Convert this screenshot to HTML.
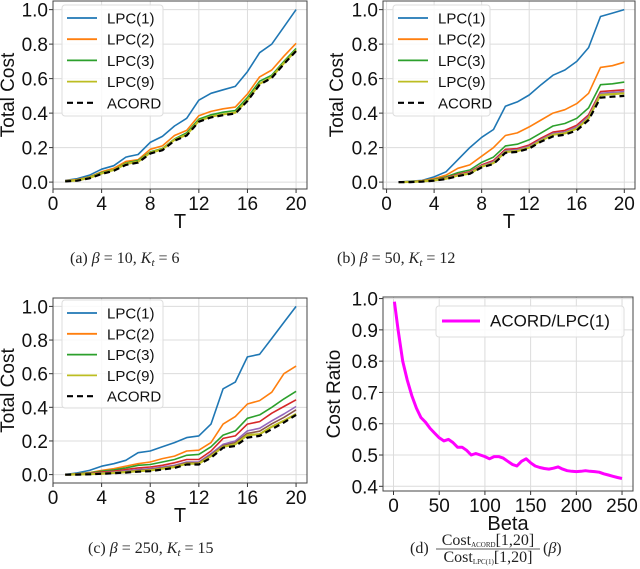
<!DOCTYPE html>
<html><head><meta charset="utf-8"><style>
html,body{margin:0;padding:0;background:#fff;}
svg{display:block;font-family:"Liberation Sans",sans-serif;}
.cap{font-family:"Liberation Serif",serif;font-size:16px;fill:#222;}
</style></head><body>
<svg id="fig" width="640" height="569" viewBox="0 0 640 569" xmlns="http://www.w3.org/2000/svg">
<text class="cap" x="70" y="263">(a) <tspan font-style="italic">β</tspan> = 10, <tspan font-style="italic">K</tspan><tspan font-size="11" font-style="italic" dy="3">t</tspan><tspan dy="-3"> = 6</tspan></text>
<text class="cap" x="337" y="263">(b) <tspan font-style="italic">β</tspan> = 50, <tspan font-style="italic">K</tspan><tspan font-size="11" font-style="italic" dy="3">t</tspan><tspan dy="-3"> = 12</tspan></text>
<text class="cap" x="88" y="553">(c) <tspan font-style="italic">β</tspan> = 250, <tspan font-style="italic">K</tspan><tspan font-size="11" font-style="italic" dy="3">t</tspan><tspan dy="-3"> = 15</tspan></text>
<g>
<text class="cap" x="410" y="553">(d)</text>
<text class="cap" x="488" y="545" text-anchor="middle" font-size="11">Cost<tspan font-size="7" dy="2">ACORD</tspan><tspan dy="-2">[1,20]</tspan></text>
<line x1="436" y1="549" x2="540" y2="549" stroke="#222" stroke-width="0.8"/>
<text class="cap" x="488" y="562" text-anchor="middle" font-size="11">Cost<tspan font-size="7" dy="2">LPC(1)</tspan><tspan dy="-2">[1,20]</tspan></text>
<text class="cap" x="543" y="553">(<tspan font-style="italic">β</tspan>)</text>
</g>
</svg>
<script>
const T = [1,2,3,4,5,6,7,8,9,10,11,12,13,14,15,16,17,18,19,20];
const xTicks = [0,4,8,12,16,20];
const yTicks = [0,0.2,0.4,0.6,0.8,1.0];
const aLPC1 = [0.01,0.02,0.04,0.075,0.095,0.145,0.16,0.23,0.265,0.325,0.37,0.475,0.515,0.535,0.555,0.64,0.75,0.80,0.90,1.0];
const aLPC2 = [0.008,0.015,0.03,0.06,0.08,0.12,0.13,0.19,0.21,0.27,0.30,0.385,0.41,0.425,0.435,0.51,0.61,0.65,0.73,0.805];
const aLPC3 = [0.006,0.012,0.028,0.055,0.072,0.11,0.125,0.175,0.195,0.25,0.285,0.365,0.39,0.405,0.415,0.49,0.585,0.62,0.70,0.775];
const aLPC9 = [0.005,0.01,0.025,0.05,0.07,0.105,0.118,0.17,0.19,0.245,0.275,0.355,0.38,0.393,0.403,0.475,0.57,0.61,0.69,0.765];
const aACORD = [0.004,0.008,0.022,0.047,0.066,0.1,0.113,0.165,0.185,0.24,0.27,0.35,0.375,0.388,0.398,0.47,0.565,0.605,0.685,0.76];
const bLPC1 = [0,0.005,0.01,0.03,0.06,0.13,0.2,0.26,0.305,0.44,0.465,0.505,0.565,0.62,0.65,0.70,0.78,0.96,0.98,1.0];
const bLPC2 = [0,0.003,0.008,0.02,0.04,0.08,0.10,0.15,0.2,0.27,0.285,0.32,0.36,0.40,0.42,0.455,0.515,0.665,0.675,0.695];
const bLPC3 = [0,0.002,0.006,0.015,0.03,0.055,0.07,0.115,0.145,0.21,0.22,0.245,0.285,0.325,0.34,0.37,0.43,0.565,0.57,0.58];
const bLPC4 = [0,0.002,0.005,0.013,0.025,0.045,0.06,0.1,0.125,0.19,0.195,0.215,0.255,0.29,0.3,0.33,0.39,0.525,0.53,0.535];
const bLPC5 = [0,0.0015,0.0045,0.011,0.022,0.041,0.055,0.095,0.118,0.182,0.187,0.207,0.247,0.282,0.29,0.32,0.38,0.515,0.52,0.525];
const bLPC9 = [0,0.001,0.004,0.01,0.02,0.038,0.05,0.09,0.11,0.175,0.18,0.2,0.24,0.275,0.283,0.31,0.37,0.505,0.51,0.515];
const bACORD = [0,0,0.003,0.008,0.018,0.035,0.048,0.085,0.105,0.17,0.175,0.195,0.235,0.265,0.275,0.30,0.36,0.49,0.495,0.50];
const cLPC1 = [0,0.01,0.025,0.05,0.065,0.085,0.13,0.14,0.165,0.19,0.22,0.23,0.3,0.51,0.55,0.70,0.715,0.81,0.905,1.0];
const cLPC2 = [0,0.005,0.012,0.025,0.035,0.05,0.065,0.075,0.095,0.11,0.14,0.145,0.19,0.30,0.345,0.42,0.44,0.49,0.60,0.645];
const cLPC3 = [0,0.004,0.01,0.02,0.028,0.04,0.055,0.06,0.075,0.09,0.115,0.12,0.165,0.235,0.26,0.335,0.355,0.40,0.45,0.495];
const cLPC4 = [0,0.003,0.007,0.015,0.02,0.03,0.04,0.045,0.055,0.07,0.09,0.09,0.14,0.215,0.23,0.30,0.315,0.365,0.405,0.445];
const cLPC5 = [0,0.002,0.005,0.01,0.015,0.022,0.03,0.035,0.045,0.055,0.075,0.075,0.125,0.18,0.2,0.26,0.275,0.32,0.36,0.405];
const cLPC6 = [0,0.0015,0.004,0.008,0.012,0.018,0.025,0.03,0.04,0.05,0.07,0.07,0.117,0.172,0.19,0.245,0.258,0.302,0.34,0.385];
const cLPC9 = [0,0.001,0.003,0.006,0.01,0.015,0.02,0.025,0.035,0.045,0.065,0.065,0.11,0.165,0.18,0.235,0.24,0.285,0.32,0.36];
const cACORD = [0,0,0.002,0.005,0.008,0.012,0.017,0.02,0.03,0.04,0.06,0.06,0.1,0.16,0.17,0.22,0.23,0.27,0.31,0.355];
const betas = [1,5,10,15,20,25,30,35,40,45,50,55,60,65,70,75,80,85,90,95,100,105,110,115,120,125,130,135,140,145,150,155,160,165,170,175,180,185,190,195,200,205,210,215,220,225,230,235,240,245,250];
const ratio = [0.99,0.90,0.80,0.74,0.69,0.65,0.62,0.605,0.585,0.57,0.555,0.545,0.55,0.54,0.525,0.525,0.515,0.50,0.505,0.50,0.495,0.488,0.495,0.495,0.49,0.48,0.47,0.465,0.48,0.488,0.475,0.465,0.46,0.457,0.455,0.458,0.462,0.455,0.45,0.448,0.447,0.448,0.45,0.448,0.447,0.445,0.44,0.436,0.432,0.428,0.425];
const betaTicks = [0,50,100,150,200,250];
const ratioTicks = [0.4,0.5,0.6,0.7,0.8,0.9,1.0];

const NS="http://www.w3.org/2000/svg";
const svg=document.getElementById('fig');
function el(tag,attrs,parent){const e=document.createElementNS(NS,tag);for(const k in attrs)e.setAttribute(k,attrs[k]);(parent||svg).appendChild(e);return e;}

function panel(p){
  const g=el('g',{});
  
  
  const sx=v=>p.L+(v-p.x0)/(p.x1-p.x0)*(p.R-p.L);
  const sy=v=>p.B-(v-p.y0)/(p.y1-p.y0)*(p.B-p.Tp);
  p.xt.forEach(v=>{
    const l=el('line',{x1:sx(v),x2:sx(v),y1:p.Tp,y2:p.B,stroke:'#dcdcdc','stroke-width':1},g);
    
    
    el('line',{x1:sx(v),x2:sx(v),y1:p.B,y2:p.B+4,stroke:'#333','stroke-width':1},g);
    const t=el('text',{x:sx(v),y:p.B+21,'text-anchor':'middle','font-size':19,fill:'#111'},g);
    t.textContent=String(v);
    
    
  });
  p.yt.forEach(v=>{
    const l=el('line',{x1:p.L,x2:p.R,y1:sy(v),y2:sy(v),stroke:'#dcdcdc','stroke-width':1},g);
    
    
    el('line',{x1:p.L-4,x2:p.L,y1:sy(v),y2:sy(v),stroke:'#333','stroke-width':1},g);
    const t=el('text',{x:p.L-5,y:sy(v)+7,'text-anchor':'end','font-size':19,fill:'#111'},g);
    t.textContent=v.toFixed(1);
    
    
  });
  p.series.forEach(s=>{
    const d=s.ys.map((y,i)=>(i?'L':'M')+sx(s.xs[i]).toFixed(1)+','+sy(y).toFixed(1)).join('');
    const a={d:d,fill:'none',stroke:s.c,'stroke-width':s.w||1.6,'stroke-linejoin':'round'};
    if(s.dash)a['stroke-dasharray']=s.dash;
    const path=el('path',a,g);
    
    
  });
  const fr=el('rect',{x:p.L,y:p.Tp,width:p.R-p.L,height:p.B-p.Tp,fill:'none',stroke:'#444','stroke-width':1},g);
  
  
  const xl=el('text',{x:(p.L+p.R)/2,y:p.B+39,'text-anchor':'middle','font-size':20,fill:'#111'},g);
  xl.textContent=p.xlab;
  
  
  const yx=p.ylx, yy=(p.Tp+p.B)/2;
  const yl=el('text',{x:yx,y:yy,'text-anchor':'middle','font-size':19,fill:'#111',transform:`rotate(-90 ${yx} ${yy})`},g);
  yl.textContent=p.ylab;
  
  
  const lg=p.leg;
  const lgG=el('g',{},g);
  
  
  el('rect',{x:lg.x,y:lg.y,width:lg.w,height:lg.h,rx:3,fill:'#fff','fill-opacity':0.85,stroke:'#ddd','stroke-width':1},lgG);
  lg.items.forEach((it,i)=>{
    const y=lg.y0+i*lg.dy;
    const ln={x1:lg.lx,x2:lg.lx+lg.ll,y1:y,y2:y,stroke:it.c,'stroke-width':it.w||1.8};
    if(it.dash)ln['stroke-dasharray']=it.dash;
    el('line',ln,lgG);
    const t=el('text',{x:lg.lx+lg.ll+10,y:y+5.5,'font-size':lg.fs||15,fill:'#111'},lgG);
    t.textContent=it.n;
    
    
  });
}
const C1='#1f77b4',C2='#ff7f0e',C3='#2ca02c',C4='#d62728',C5='#9467bd',C6='#8c564b',C9='#bcbd22';
const legItems=[{n:'LPC(1)',c:C1},{n:'LPC(2)',c:C2},{n:'LPC(3)',c:C3},{n:'LPC(9)',c:C9},{n:'ACORD',c:'#000',dash:'6,4',w:2.2}];
function sr(a,b,c,e,f){return [{n:'lpc1-line',xs:T,ys:a,c:C1},{n:'lpc2-line',xs:T,ys:b,c:C2},{n:'lpc3-line',xs:T,ys:c,c:C3},{n:'lpc9-line',xs:T,ys:e,c:C9,w:2.2},{n:'acord-line',xs:T,ys:f,c:'#000',dash:'6,4',w:2.2}];}
let sa=sr(aLPC1,aLPC2,aLPC3,aLPC9,aACORD);
panel({name:'panel-a',L:53,R:307,Tp:1,B:189,x0:0,x1:20.9,y0:-0.04,y1:1.05,xt:xTicks,yt:yTicks,xlab:'T',ylab:'Total Cost',ylx:14,series:sa,
  leg:{x:62,y:5,w:101,h:111,lx:67,ll:30,y0:18,dy:21.2,items:legItems}});
let sb=sr(bLPC1,bLPC2,bLPC3,bLPC9,bACORD);
sb.splice(3,0,{n:'lpc4-line',xs:T,ys:bLPC4,c:C4},{n:'lpc5-line',xs:T,ys:bLPC5,c:C5});
panel({name:'panel-b',L:383,R:635,Tp:1,B:189,x0:-0.3,x1:20.9,y0:-0.04,y1:1.05,xt:xTicks,yt:yTicks,xlab:'T',ylab:'Total Cost',ylx:343,series:sb,
  leg:{x:393,y:5,w:97,h:111,lx:398,ll:30,y0:18,dy:21.2,items:legItems}});
let sc=sr(cLPC1,cLPC2,cLPC3,cLPC9,cACORD);
sc.splice(3,0,{n:'lpc4-line',xs:T,ys:cLPC4,c:C4},{n:'lpc5-line',xs:T,ys:cLPC5,c:C5},{n:'lpc6-line',xs:T,ys:cLPC6,c:C6});
panel({name:'panel-c',L:53,R:307,Tp:298,B:483,x0:0,x1:20.9,y0:-0.05,y1:1.05,xt:xTicks,yt:yTicks,xlab:'T',ylab:'Total Cost',ylx:14,series:sc,
  leg:{x:62,y:300,w:101,h:108,lx:67,ll:30,y0:313,dy:20.8,items:legItems}});
panel({name:'panel-d',L:383,R:633,Tp:297,B:491,x0:-11.5,x1:262,y0:0.385,y1:1.005,xt:betaTicks,yt:ratioTicks,xlab:'Beta',ylab:'Cost Ratio',ylx:340,
  series:[{n:'ratio-line',xs:betas,ys:ratio,c:'#ff00ff',w:3}],
  leg:{x:436,y:306,w:188,h:31,lx:442,ll:38,y0:321,dy:20,fs:17,items:[{n:'ACORD/LPC(1)',c:'#ff00ff',w:3}]}});
</script>
</body></html>
